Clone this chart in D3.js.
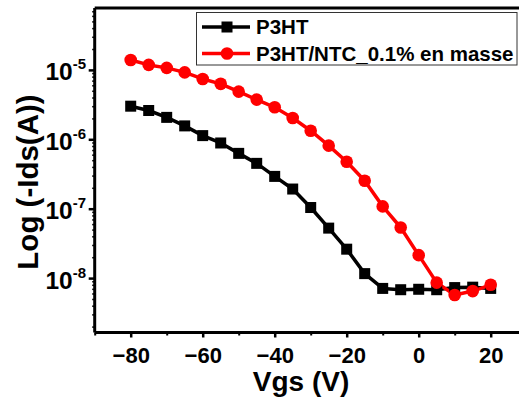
<!DOCTYPE html>
<html>
<head>
<meta charset="utf-8">
<script src="https://cdn.jsdelivr.net/npm/d3@7"></script>
<style>
  html, body { margin: 0; padding: 0; background: #fff; }
  svg { display: block; }
  text { font-family: "Liberation Sans", Arial, sans-serif; font-weight: bold; fill: #000; }
</style>
</head>
<body>
<svg id="chart" width="519" height="402"></svg>
<script>
// Gate voltage sweep (V)
const vgs = [-80, -75, -70, -65, -60, -55, -50, -45, -40, -35, -30, -25, -20, -15, -10, -5, 0, 5, 10, 15, 20];

// -Ids (A) for pristine P3HT
const idsP3HT = [3.0e-6, 2.6e-6, 2.07e-6, 1.56e-6, 1.13e-6, 8.85e-7, 6.27e-7, 4.5e-7, 2.92e-7, 1.92e-7,
  1.04e-7, 5.25e-8, 2.61e-8, 1.16e-8, 7.1e-9, 6.8e-9, 6.9e-9, 6.8e-9, 7.3e-9, 7.4e-9, 7.1e-9];

// -Ids (A) for P3HT / carbon nanotube blend (0.1 wt%)
const idsBlend = [1.39e-5, 1.18e-5, 1.07e-5, 9.2e-6, 7.4e-6, 6.3e-6, 4.86e-6, 3.73e-6, 2.89e-6, 2.03e-6,
  1.33e-6, 8.1e-7, 4.75e-7, 2.53e-7, 1.08e-7, 5.36e-8, 2.14e-8, 8.6e-9, 5.7e-9, 6.5e-9, 8.0e-9];

const seriesNames = ["P3HT", "P3HT/NTC_0.1% en masse"];
const seriesColors = ["#000000", "#ff0000"];

const xTicks = [-80, -60, -40, -20, 0, 20];
const xMinorTicks = [-90, -70, -50, -30, -10, 10, 30];
const yExponents = [-8, -7, -6, -5];

const svg = d3.select("#chart");

const plot = { left: 94.7, right: 526.7, top: 8, bottom: 332.5 };

const x = d3.scaleLinear().domain([-90, 30]).range([plot.left, plot.right]);
const y = d3.scaleLog().domain([Math.pow(10, -8.784), Math.pow(10, -4.108)]).range([plot.bottom, plot.top]);

// y-axis minor ticks (2..9 x 10^n)
const yMinor = [];
for (let e = -9; e <= -5; e++) {
  for (let m = 2; m <= 9; m++) {
    const v = m * Math.pow(10, e);
    if (v >= y.domain()[0] && v <= y.domain()[1]) yMinor.push(v);
  }
}

// Frame: top edge
svg.append("line")
  .attr("x1", plot.left).attr("x2", plot.right)
  .attr("y1", plot.top).attr("y2", plot.top)
  .attr("stroke", "#000").attr("stroke-width", 3);

// x axis
const gx = svg.append("g").attr("transform", `translate(0,${plot.bottom})`);
gx.call(d3.axisBottom(x).tickValues(xTicks).tickSize(5).tickPadding(4).tickFormat(d3.format("d")));
gx.call(g => g.select(".domain").attr("stroke-width", 3).attr("d", `M${plot.left},0H${plot.right}`));
gx.selectAll(".tick line").attr("stroke-width", 2.5);
gx.selectAll(".tick text").attr("font-size", 22).attr("font-family", null).attr("dy", "0.98em");

const gxm = svg.append("g").attr("transform", `translate(0,${plot.bottom})`);
gxm.call(d3.axisBottom(x).tickValues(xMinorTicks).tickSize(3).tickFormat(""));
gxm.select(".domain").remove();
gxm.selectAll(".tick line").attr("stroke-width", 2);

// y axis
const gy = svg.append("g").attr("transform", `translate(${plot.left},0)`);
gy.call(d3.axisLeft(y).tickValues(yExponents.map(e => Math.pow(10, e))).tickSize(6).tickFormat(""));
gy.call(g => g.select(".domain").attr("stroke-width", 3).attr("d", `M0,${plot.top}V${plot.bottom}`));
gy.selectAll(".tick line").attr("stroke-width", 2.5);

const gym = svg.append("g").attr("transform", `translate(${plot.left},0)`);
gym.call(d3.axisLeft(y).tickValues(yMinor).tickSize(2.5).tickFormat(""));
gym.select(".domain").remove();
gym.selectAll(".tick line").attr("stroke-width", 1.5);

// y tick labels with superscript exponents
const yLab = svg.append("g");
yExponents.forEach(e => {
  const t = yLab.append("text")
    .attr("x", 86)
    .attr("y", y(Math.pow(10, e)) + 10.5)
    .attr("text-anchor", "end")
    .attr("font-size", 24.5);
  t.append("tspan").text("10");
  t.append("tspan").attr("font-size", 15).attr("dy", -11).text(String(e));
});

// axis titles
svg.append("text")
  .attr("x", 301).attr("y", 391)
  .attr("text-anchor", "middle")
  .attr("font-size", 28)
  .text("Vgs (V)");

svg.append("text")
  .attr("transform", "translate(38,182) rotate(-90)")
  .attr("text-anchor", "middle")
  .attr("font-size", 29.5)
  .text("Log (-Ids(A))");

// series
const series = [idsP3HT, idsBlend];
const line = d3.line().x(d => x(d[0])).y(d => y(d[1]));

series.forEach((vals, i) => {
  const pts = vgs.map((v, j) => [v, vals[j]]);
  svg.append("path")
    .datum(pts)
    .attr("fill", "none")
    .attr("stroke", seriesColors[i])
    .attr("stroke-width", 3.5)
    .attr("stroke-linejoin", "round")
    .attr("d", line);
});

// markers: squares for P3HT, circles for the blend
svg.append("g").selectAll("rect")
  .data(vgs.map((v, j) => [v, idsP3HT[j]]))
  .join("rect")
  .attr("x", d => x(d[0]) - 5.5)
  .attr("y", d => y(d[1]) - 5.5)
  .attr("width", 11).attr("height", 11)
  .attr("fill", seriesColors[0]);

svg.append("g").selectAll("circle")
  .data(vgs.map((v, j) => [v, idsBlend[j]]))
  .join("circle")
  .attr("cx", d => x(d[0]))
  .attr("cy", d => y(d[1]))
  .attr("r", 6.3)
  .attr("fill", seriesColors[1]);

// legend
const legend = svg.append("g");
legend.append("rect")
  .attr("x", 196.5).attr("y", 12.5)
  .attr("width", 320.5).attr("height", 52.5)
  .attr("fill", "#fff")
  .attr("stroke", "#333").attr("stroke-width", 1);

seriesNames.forEach((name, i) => {
  const cy = 27 + i * 26.5;
  legend.append("line")
    .attr("x1", 202).attr("x2", 250)
    .attr("y1", cy).attr("y2", cy)
    .attr("stroke", seriesColors[i]).attr("stroke-width", 3.5);
  if (i === 0) {
    legend.append("rect")
      .attr("x", 227 - 5.5).attr("y", cy - 5.5)
      .attr("width", 11).attr("height", 11)
      .attr("fill", seriesColors[i]);
  } else {
    legend.append("circle")
      .attr("cx", 227).attr("cy", cy).attr("r", 6.3)
      .attr("fill", seriesColors[i]);
  }
  legend.append("text")
    .attr("x", 256).attr("y", cy + 7)
    .attr("font-size", 20.5)
    .text(name);
});
</script>
</body>
</html>
